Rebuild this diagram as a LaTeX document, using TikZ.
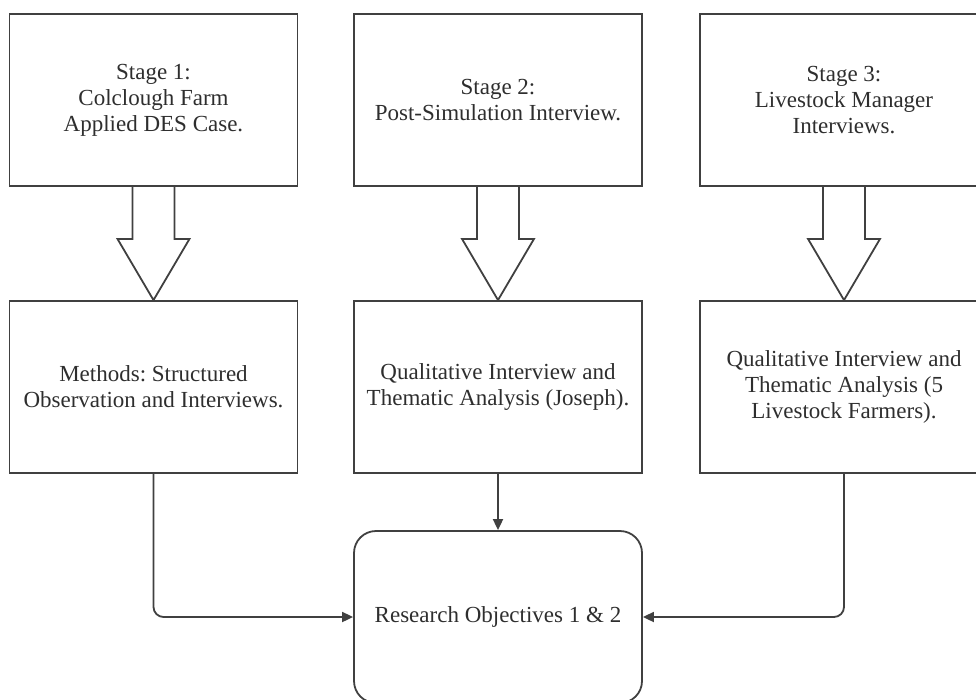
\documentclass[tikz,border=0pt]{standalone}
\usepackage{fontspec}
\setmainfont{Liberation Serif}
\usetikzlibrary{arrows.meta, calc}

\tikzset{
  stagebox/.style = {draw=black!75, line width=1.8pt, minimum width=288pt, minimum height=172pt, inner sep=0pt, align=center, text=black!82, font=\fontsize{23}{26}\selectfont\frenchspacing},
  goalbox/.style = {stagebox, rounded corners=22pt},
  bigarrow/.style = {draw=black!75, line width=1.8pt, line join=miter},
  link/.style = {draw=black!75, line width=1.8pt, rounded corners=10pt, -{Triangle[length=11pt, width=10pt]}}
}

\newcommand{\hollowarrow}[2]{%
\draw[bigarrow] ($(#1.south)+(-21,0)$) -- ++(0,52) -- ++(-15,0) -- (#2.north) -- ($(#1.south)+(36,52)$) -- ++(-15,0) -- ++(0,-52);}

\begin{document}
\begin{tikzpicture}[x = 1pt, y = -1pt]
\path[use as bounding box, clip] (0, 0) rectangle (976, 699);

\node (stageA) at (153.5, 100) [stagebox] {Stage 1:\\ Colclough Farm\\ Applied DES Case.};
\node (stageB) at (498, 100) [stagebox] {Stage 2:\\ Post-Simulation Interview.};
\node (stageC) at (844, 100) [stagebox] {Stage 3:\\ Livestock Manager\\ Interviews.};

\node (methA) at (153.5, 387) [stagebox] {Methods: Structured\\ Observation and Interviews.};
\node (methB) at (498, 387) [stagebox] {Qualitative Interview and\\ Thematic Analysis (Joseph).};
\node (methC) at (844, 387) [stagebox] {Qualitative Interview and\\ Thematic Analysis (5\\ Livestock Farmers).};

\node (goal) at (498, 617) [goalbox] {Research Objectives 1 \& 2};

\hollowarrow{stageA}{methA}
\hollowarrow{stageB}{methB}
\hollowarrow{stageC}{methC}

\draw[link] (methA.south) |- (goal.west);
\draw[link] (methB.south) -- (goal.north);
\draw[link] (methC.south) |- (goal.east);

\end{tikzpicture}
\end{document}
